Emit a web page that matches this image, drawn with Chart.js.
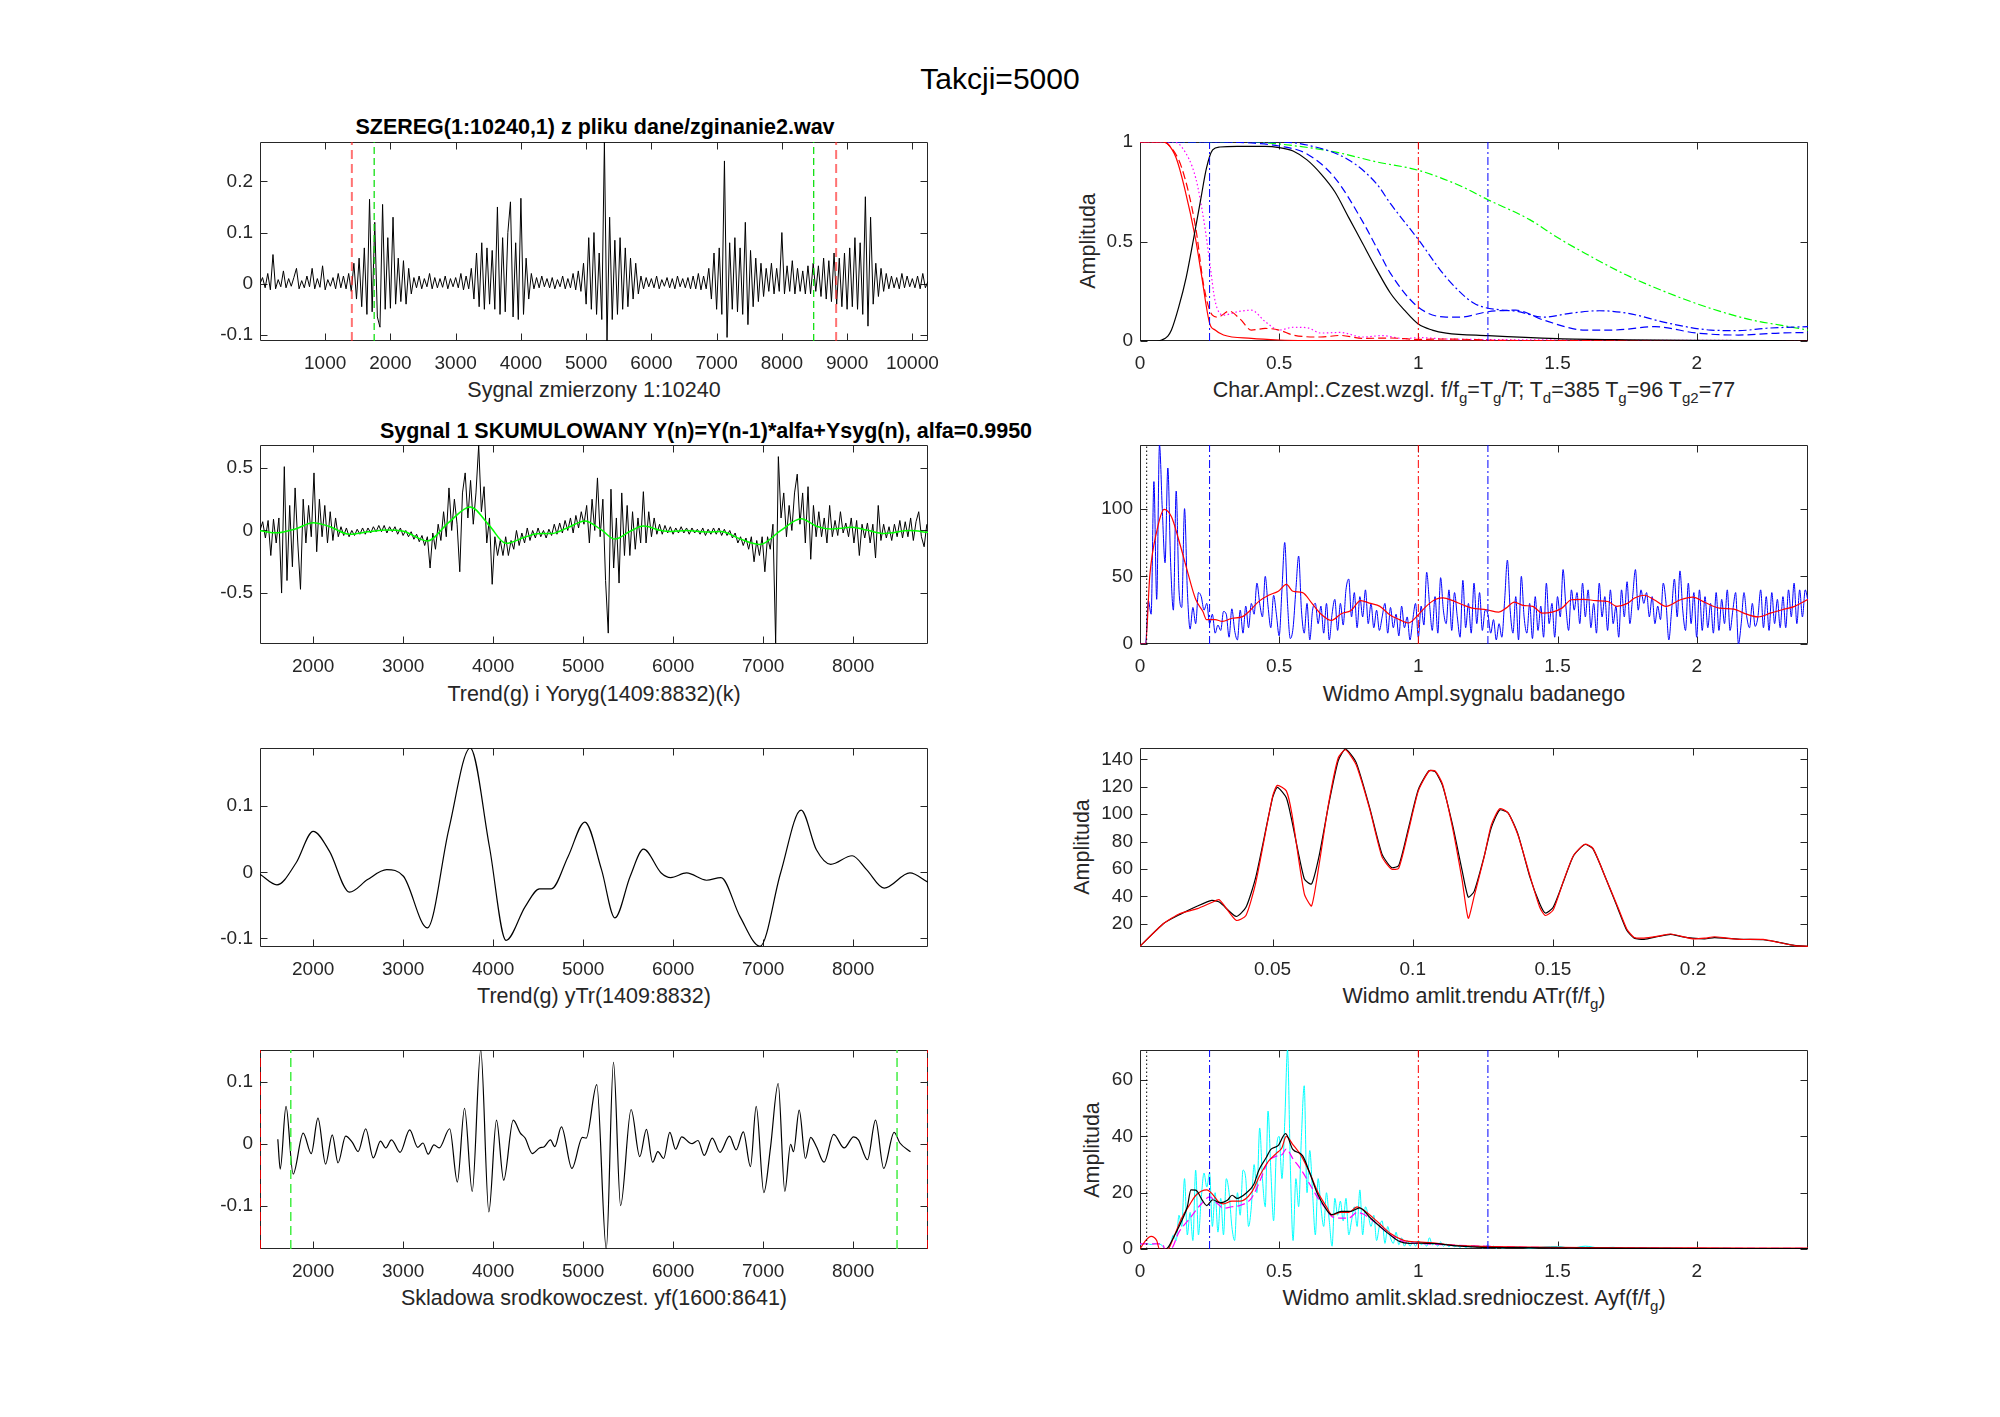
<!DOCTYPE html>
<html><head><meta charset="utf-8"><title>Takcji=5000</title>
<script src="https://cdn.jsdelivr.net/npm/chart.js@4.4.1/dist/chart.umd.min.js"></script>
<style>
html,body{margin:0;padding:0;background:#fff}
body{position:relative;width:2000px;height:1417px;overflow:hidden;font-family:'Liberation Sans',Arial,Helvetica,sans-serif;color:#262626}
canvas{position:absolute}
.t{position:absolute;white-space:nowrap;transform:translate(-50%,-50%);line-height:1;font-size:21.5px}
.b{font-weight:bold;color:#000}
.yl{transform:translate(-50%,-50%) rotate(-90deg)}
.s{font-size:70%;position:relative;top:0.42em}
</style></head><body>
<div class="t" style="left:1000px;top:79px;font-size:30px;color:#000">Takcji=5000</div>
<div class="t b" style="left:595px;top:128px">SZEREG(1:10240,1) z pliku dane/zginanie2.wav</div>
<div class="t b" style="left:706px;top:432px">Sygnal 1 SKUMULOWANY Y(n)=Y(n-1)*alfa+Ysyg(n), alfa=0.9950</div>
<div class="t" style="left:594px;top:391px">Sygnal zmierzony 1:10240</div>
<div class="t" style="left:1474px;top:391px">Char.Ampl:.Czest.wzgl. f/f<span class="s">g</span>=T<span class="s">g</span>/T; T<span class="s">d</span>=385 T<span class="s">g</span>=96 T<span class="s">g2</span>=77</div>
<div class="t" style="left:594px;top:695px">Trend(g) i Yoryg(1409:8832)(k)</div>
<div class="t" style="left:1474px;top:695px">Widmo Ampl.sygnalu badanego</div>
<div class="t" style="left:594px;top:997px">Trend(g) yTr(1409:8832)</div>
<div class="t" style="left:1474px;top:997px">Widmo amlit.trendu ATr(f/f<span class="s">g</span>)</div>
<div class="t" style="left:594px;top:1299px">Skladowa srodkowoczest. yf(1600:8641)</div>
<div class="t" style="left:1474px;top:1299px">Widmo amlit.sklad.srednioczest. Ayf(f/f<span class="s">g</span>)</div>
<div class="t yl" style="left:1089px;top:241px">Amplituda</div>
<div class="t yl" style="left:1083px;top:847px">Amplituda</div>
<div class="t yl" style="left:1093px;top:1150px">Amplituda</div>
<script>
const FONT = "'Liberation Sans', Arial, Helvetica, sans-serif";
const INK = '#262626';
Chart.defaults.font.family = FONT;

// ---------------- DATA ----------------
// Sygnal zmierzony (row 1 left): sample every 40
const sygStart = 1, sygStep = 40;
const sygnal = [
0.0,0.012,-0.008,0.02,-0.012,0.057,-0.01,0.008,-0.006,0.025,
-0.008,0.01,-0.005,0.012,0.03,-0.01,0.006,-0.008,0.015,-0.006,
0.03,-0.01,0.01,-0.007,0.035,-0.012,0.008,-0.005,0.012,-0.01,
0.02,-0.008,0.015,-0.01,0.02,-0.015,0.04,-0.03,0.05,-0.045,
0.07,-0.06,0.165,-0.055,0.12,-0.065,-0.085,0.155,-0.05,0.09,
-0.048,0.13,-0.04,0.05,-0.035,0.045,-0.04,0.03,-0.02,0.012,
-0.008,0.015,-0.01,0.01,-0.006,0.02,-0.01,0.012,-0.008,0.01,
-0.007,0.015,-0.01,0.01,-0.006,0.012,-0.008,0.02,-0.012,0.015,
-0.01,0.03,-0.03,0.06,-0.045,0.08,-0.05,0.07,-0.04,0.065,
-0.05,0.15,-0.06,0.09,-0.055,0.1,0.16,-0.065,0.08,-0.07,
0.167,-0.06,0.05,-0.03,0.02,-0.01,0.012,-0.008,0.015,-0.006,
0.01,-0.008,0.012,-0.01,0.008,-0.006,0.015,-0.01,0.01,-0.008,
0.02,-0.012,0.025,-0.015,0.04,-0.04,0.09,-0.05,0.1,-0.06,
0.06,-0.07,0.277,-0.112,0.13,-0.07,0.085,-0.06,0.09,-0.05,
0.07,-0.045,0.05,-0.03,0.04,-0.02,0.015,-0.01,0.012,-0.006,
0.01,-0.008,0.015,-0.01,0.008,-0.005,0.012,-0.008,0.01,-0.01,
0.015,-0.006,0.01,-0.008,0.012,-0.01,0.015,-0.01,0.02,-0.012,
0.015,-0.01,0.03,-0.03,0.06,-0.05,0.07,-0.06,0.24,-0.105,
0.08,-0.05,0.09,-0.055,0.07,-0.06,0.12,-0.08,0.065,-0.045,
0.05,-0.035,0.04,-0.025,0.03,-0.015,0.04,-0.02,0.03,-0.015,
0.1,-0.02,0.035,-0.015,0.045,-0.02,0.03,-0.015,0.025,-0.02,
0.035,-0.02,0.04,-0.015,0.035,-0.025,0.05,-0.03,0.045,-0.035,
0.06,-0.04,0.05,-0.045,0.06,-0.05,0.07,-0.045,0.09,-0.05,
0.08,-0.06,0.17,-0.083,0.13,-0.04,0.04,-0.025,0.03,-0.015,
0.02,-0.01,0.015,-0.008,0.012,-0.01,0.02,-0.008,0.015,-0.006,
0.01,-0.008,0.015,-0.01,0.02,-0.008,0.005];

// Sygnal skumulowany (row 2 left): sample every 30 from 1409
const kumStart = 1409, kumStep = 30;
const skumulowany = [
0.0,0.07,-0.06,0.08,-0.2,0.09,-0.1,0.1,-0.5,0.51,
-0.4,0.2,-0.29,0.34,-0.1,-0.47,0.25,-0.1,0.2,-0.05,
0.46,-0.17,0.25,-0.05,0.2,-0.1,0.15,-0.08,0.1,-0.05,
0.03,-0.04,0.02,-0.05,0.0,-0.04,0.01,-0.03,0.02,-0.03,
0.02,-0.02,0.03,-0.01,0.04,-0.01,0.04,-0.02,0.03,-0.01,
0.03,-0.03,0.02,-0.04,0.0,-0.05,-0.01,-0.07,-0.03,-0.09,
-0.04,-0.12,-0.05,-0.3,-0.02,-0.15,0.05,-0.08,0.15,-0.05,
0.34,0.0,0.25,0.05,-0.33,0.3,0.46,0.1,0.4,0.05,
0.3,0.68,0.15,0.35,-0.1,0.1,-0.43,-0.05,-0.2,-0.08,
-0.2,-0.05,-0.2,-0.08,-0.15,0.0,-0.12,-0.02,-0.1,0.02,
-0.08,0.0,-0.06,0.02,-0.05,0.0,-0.06,0.01,-0.04,0.05,
-0.03,0.06,-0.02,0.08,0.0,0.1,-0.02,0.12,0.02,0.15,
0.05,0.2,-0.1,0.25,0.0,0.42,-0.05,0.25,-0.4,-0.82,
0.33,-0.3,0.1,-0.42,0.3,-0.2,0.2,-0.2,0.15,-0.15,
0.1,-0.1,0.31,-0.1,0.15,-0.05,0.1,-0.03,0.05,-0.03,
0.04,-0.02,0.03,-0.03,0.02,-0.02,0.03,-0.02,0.02,-0.03,
0.02,-0.02,0.01,-0.03,0.02,-0.04,0.01,-0.03,0.02,-0.03,
0.02,-0.04,0.01,-0.04,0.0,-0.06,-0.02,-0.1,-0.05,-0.12,
-0.06,-0.15,-0.05,-0.25,-0.08,-0.2,-0.05,-0.33,-0.05,-0.15,
0.05,-0.9,0.59,0.1,0.3,-0.05,0.2,0.0,0.3,0.45,
0.05,0.3,-0.1,0.35,-0.23,0.2,-0.05,0.15,-0.05,0.1,
-0.1,0.2,-0.05,0.08,-0.04,0.15,-0.02,0.06,-0.05,0.1,
-0.1,0.08,-0.2,0.05,-0.06,0.06,-0.1,0.05,-0.22,0.2,
-0.08,0.05,-0.06,0.03,-0.08,0.05,-0.05,0.08,-0.06,0.07,
-0.05,0.1,-0.08,0.07,0.15,-0.05,-0.13,0.05];

// Trend yTr (rows 2 and 3 left): [sample, value]
const trend = [[1409,-0.003],[1597,-0.019],[1809,0.014],[2000,0.062],[2180,0.032],[2403,-0.030],[2605,-0.011],[2817,0.004],[3003,-0.006],[3268,-0.084],[3507,0.065],[3745,0.188],[3958,0.039],[4143,-0.103],[4356,-0.052],[4515,-0.025],[4647,-0.025],[4833,0.024],[5019,0.076],[5204,0.004],[5353,-0.069],[5523,-0.006],[5671,0.035],[5867,-0.001],[5973,-0.008],[6149,-0.001],[6371,-0.012],[6531,-0.008],[6743,-0.067],[6966,-0.112],[7194,-0.001],[7422,0.094],[7592,0.034],[7751,0.012],[7989,0.025],[8149,0.004],[8345,-0.024],[8631,-0.001],[8832,-0.015]];

// Skladowa srodkowoczest. yf (row 4 left): [sample, value]
const srodek = [[1607,0.008],[1634,-0.040],[1698,0.061],[1777,-0.048],[1889,0.018],[1979,-0.015],[2053,0.042],[2138,-0.032],[2212,0.015],[2276,-0.030],[2361,0.013],[2435,0.003],[2499,-0.012],[2584,0.025],[2668,-0.022],[2748,0.005],[2806,-0.006],[2870,0.007],[2966,-0.013],[3072,0.023],[3162,-0.005],[3220,0.002],[3278,-0.016],[3342,-0.001],[3400,-0.006],[3517,0.025],[3602,-0.061],[3682,0.058],[3767,-0.076],[3862,0.152],[3952,-0.109],[4037,0.039],[4117,-0.058],[4223,0.039],[4302,0.018],[4355,0.010],[4435,-0.015],[4515,-0.006],[4568,-0.004],[4637,0.007],[4684,-0.004],[4759,0.028],[4875,-0.039],[4992,0.011],[5034,0.010],[5151,0.096],[5257,-0.169],[5337,0.132],[5416,-0.099],[5533,0.056],[5629,-0.020],[5703,0.024],[5772,-0.029],[5830,-0.012],[5894,-0.023],[5963,0.019],[6027,-0.008],[6095,0.012],[6186,0.002],[6212,0.001],[6276,0.006],[6345,-0.018],[6435,0.010],[6520,-0.013],[6626,0.013],[6700,-0.009],[6780,0.020],[6859,-0.036],[6923,0.061],[7008,-0.078],[7082,-0.005],[7167,0.098],[7241,-0.076],[7305,0.0],[7337,-0.012],[7401,0.055],[7470,-0.023],[7528,0.011],[7592,-0.004],[7677,-0.029],[7783,0.016],[7900,-0.006],[8006,0.012],[8059,0.007],[8160,-0.025],[8249,0.039],[8340,-0.039],[8456,0.019],[8520,0.002],[8637,-0.012]];

// Char. amplitudowe filtrow (row 1 right): [f/fg, amplitude]
const charRed = [[0,1],[0.08,1],[0.1,0.99],[0.13,0.92],[0.16,0.77],[0.2,0.51],[0.22,0.34],[0.25,0.09],[0.27,0.055],[0.3,0.03],[0.4,0.013],[0.5,0.005],[0.6,0.002],[0.8,0.001],[1.2,0],[2.4,0]];
const charRedDash = [[0,1],[0.08,1],[0.1,0.99],[0.15,0.87],[0.2,0.57],[0.23,0.27],[0.26,0.13],[0.28,0.12],[0.32,0.15],[0.36,0.11],[0.4,0.055],[0.45,0.063],[0.5,0.055],[0.55,0.03],[0.65,0.02],[0.72,0.028],[0.8,0.013],[0.9,0.015],[1.0,0.008],[1.1,0.01],[1.3,0.003],[1.6,0.002],[2.0,0.001],[2.4,0.001]];
const charMag = [[0,1],[0.12,1],[0.15,0.975],[0.2,0.82],[0.23,0.6],[0.25,0.4],[0.27,0.2],[0.3,0.13],[0.35,0.147],[0.4,0.155],[0.45,0.097],[0.5,0.055],[0.55,0.069],[0.6,0.067],[0.65,0.04],[0.72,0.043],[0.8,0.02],[0.87,0.027],[0.95,0.012],[1.0,0.017],[1.1,0.01],[1.2,0.008],[1.5,0.005],[2.0,0.003],[2.4,0.002]];
const charBlack = [[0,0],[0.06,0],[0.078,0.005],[0.1,0.025],[0.113,0.055],[0.139,0.17],[0.166,0.32],[0.192,0.51],[0.218,0.71],[0.239,0.87],[0.261,0.96],[0.287,0.975],[0.35,0.978],[0.45,0.978],[0.5,0.972],[0.55,0.955],[0.6,0.91],[0.65,0.84],[0.7,0.75],[0.75,0.62],[0.8,0.49],[0.85,0.36],[0.9,0.24],[0.95,0.155],[1.0,0.085],[1.05,0.055],[1.1,0.04],[1.25,0.027],[1.5,0.012],[1.75,0.006],[2.0,0.003],[2.4,0.001]];
const charBlueDash = [[0,1],[0.3,1],[0.4,0.995],[0.5,0.98],[0.6,0.94],[0.7,0.82],[0.8,0.6],[0.85,0.47],[0.9,0.34],[1.0,0.17],[1.1,0.12],[1.15,0.12],[1.25,0.147],[1.35,0.155],[1.45,0.105],[1.6,0.055],[1.7,0.055],[1.85,0.072],[2.0,0.04],[2.15,0.03],[2.3,0.04],[2.4,0.043]];
const charBlueDashDot = [[0,1],[0.5,1],[0.6,0.985],[0.75,0.91],[0.85,0.79],[0.9,0.69],[1.0,0.51],[1.1,0.32],[1.2,0.19],[1.3,0.155],[1.35,0.15],[1.45,0.12],[1.55,0.14],[1.65,0.152],[1.75,0.14],[1.9,0.089],[2.05,0.055],[2.15,0.052],[2.25,0.064],[2.4,0.072]];
const charGreen = [[0,1],[0.4,1],[0.5,0.99],[0.7,0.95],[0.85,0.9],[1.0,0.858],[1.15,0.78],[1.25,0.71],[1.4,0.61],[1.5,0.52],[1.6,0.44],[1.75,0.33],[1.9,0.24],[2.05,0.164],[2.2,0.105],[2.3,0.08],[2.4,0.055]];

// Widmo Ampl. sygnalu badanego (row 2 right): step 0.01
const widmoStep = 0.01;
const widmo = [
0,0,0,32,22,120,33,147,100,60,
130,60,25,113,40,27,100,40,11,27,
15,38,35,25,30,15,22,8,14,10,
24,22,5,26,10,3,25,8,28,12,
30,22,45,30,20,50,28,12,36,22,
6,40,75,30,4,12,40,65,25,8,
30,3,25,30,15,28,8,30,3,22,
33,10,30,14,40,48,20,38,12,35,
20,40,15,30,12,25,10,20,30,8,
27,12,22,6,28,12,20,3,18,30,
5,28,14,53,30,10,35,8,49,25,
15,40,10,38,20,5,47,12,30,8,
45,15,38,10,25,22,8,18,3,15,
5,32,62,25,8,35,3,50,20,8,
30,4,35,10,28,5,45,15,30,5,
35,20,55,28,10,40,25,38,15,45,
20,40,12,30,8,45,20,35,10,40,
15,28,5,40,20,46,15,35,55,25,
40,30,38,20,35,15,28,18,45,30,
3,25,48,20,54,25,10,45,15,38,
5,40,10,35,12,30,8,38,10,33,
15,40,10,25,38,0,15,38,20,12,
30,13,20,40,12,35,10,38,15,33,
12,35,12,40,20,45,15,40,20,40,
32];
const widmoGlad = [[0,0],[0.02,0],[0.035,50],[0.061,84],[0.087,99.5],[0.113,94],[0.139,77],[0.166,57],[0.2,33],[0.226,24],[0.239,18],[0.27,18],[0.296,16.7],[0.331,19],[0.366,20],[0.392,24],[0.427,31.5],[0.462,36],[0.497,39],[0.526,44],[0.549,39],[0.584,38],[0.618,30],[0.653,21.6],[0.688,17.4],[0.723,22.4],[0.758,24.8],[0.793,32],[0.828,30],[0.862,27.8],[0.897,21.6],[0.932,18],[0.963,15.5],[1.0,21.6],[1.028,27.8],[1.063,33],[1.089,34],[1.124,32],[1.159,29],[1.193,26.5],[1.246,25.3],[1.289,23.6],[1.315,26.5],[1.345,31],[1.376,28.5],[1.411,27.8],[1.446,22.8],[1.481,23.6],[1.516,26.5],[1.55,32.7],[1.594,33],[1.638,32],[1.681,31.4],[1.713,27.8],[1.751,30],[1.777,34],[1.812,36],[1.847,32.7],[1.89,27.8],[1.942,32.7],[1.986,34.6],[2.03,30.7],[2.082,26.5],[2.134,25.8],[2.169,22.8],[2.221,20],[2.265,22.8],[2.308,25.3],[2.352,27.8],[2.4,33]];

// Widmo amplit. trendu (row 3 right): [f/fg, amplitude]
const trendWidmoK = [[0.0027,3.5],[0.011,20],[0.017,26.8],[0.0232,32.9],[0.0283,37],[0.031,35.8],[0.037,25.3],[0.0405,32],[0.044,54],[0.05,112],[0.0517,119.6],[0.0549,112],[0.0569,95],[0.0613,52.8],[0.0639,49],[0.0665,68.6],[0.07,107],[0.0734,139],[0.076,147.5],[0.0798,137.8],[0.0846,105],[0.089,71],[0.0924,61],[0.095,62.5],[0.0985,90],[0.102,118],[0.1058,131.7],[0.108,131],[0.1106,121],[0.1141,93],[0.1176,59],[0.1198,39.4],[0.1219,43.6],[0.1254,68.6],[0.128,90],[0.131,103],[0.134,101],[0.1375,85.6],[0.1418,54],[0.1453,34.6],[0.1473,27.8],[0.1501,32],[0.1539,51.6],[0.1574,69.8],[0.1614,77.8],[0.1643,74.6],[0.1687,54],[0.173,32],[0.1764,15],[0.179,9.5],[0.1825,8.6],[0.1877,10.8],[0.192,12.2],[0.1955,10.8],[0.1998,9.5],[0.2042,9],[0.2076,9.8],[0.212,9.3],[0.2172,8.6],[0.225,8.3],[0.2302,6.6],[0.2362,4.2],[0.241,3.5]];
const trendWidmoR = [[0.0027,3.5],[0.011,20],[0.017,27.5],[0.0232,31],[0.0283,35.5],[0.031,37.5],[0.037,22.5],[0.0405,26],[0.044,50],[0.05,113],[0.0517,121],[0.0549,117],[0.0569,100],[0.0613,42],[0.0639,33],[0.0665,62],[0.07,108],[0.0734,141],[0.076,147],[0.0798,136],[0.0846,104],[0.089,69],[0.0924,60],[0.095,60.5],[0.0985,88],[0.102,117],[0.1058,131.5],[0.108,131.5],[0.1106,122],[0.1141,91],[0.1176,52],[0.1198,24],[0.1219,40],[0.1254,68],[0.128,92],[0.131,104],[0.134,101],[0.1375,85],[0.1418,55],[0.1453,32],[0.1473,26],[0.1501,30],[0.1539,52],[0.1574,70],[0.1614,78],[0.1643,75],[0.1687,54],[0.173,33],[0.1764,16],[0.179,10],[0.1825,9.5],[0.1877,11],[0.192,12.5],[0.1955,11],[0.1998,9],[0.2042,9.5],[0.2076,10.5],[0.212,9.5],[0.2172,8.5],[0.225,8.5],[0.2302,6.5],[0.2362,4],[0.241,3.5]];

// Widmo amplit. skladowej srednioczest. (row 4 right)
const cyjanStep = 0.01;
const cyjan = [
1.5,1.8,2,1.8,1.6,1.8,2,1.8,1.2,0,0,
2,5,3,12,8,25,5,13,3,28,
5,18,27,22,27,8,20,6,18,5,
25,20,8,3,20,12,28,25,8,15,
30,20,43,25,15,49,28,10,35,40,
25,45,70.7,30,3,25,15,40,58,20,
35,20,5,25,15,8,20,10,1,18,
12,17,10,18,5,10,15,8,21,5,
15,12,8,12,3,8,10,2,8,4,
2,6,1.5,4,1,3,1,2.5,1,3,
1.5,2,1,4,1.5,2,1,2.5,1,1.8,
0.8,1.5,0.8,1.2,0.6,1.2,0.5,1,0.6,1.3,
0.5,1,0.4,0.8,1.5,0.5,1,0.3,0.8,0.4];
const cyjanTailStart = 1.35, cyjanTailStep = 0.05;
const cyjanTail = [0.8,0.3,0.7,0.9,0.3,1.0,0.4,0.6,0.2,0.5,0.3,0.4,0.2,0.3,0.2,0.3,0.1,0.2,0.1,0.2,0.1,0.1];
const ayfK = [[0,0],[0.09,0],[0.1,0.5],[0.12,4],[0.15,10],[0.17,15],[0.183,21],[0.2,20.9],[0.226,17],[0.24,15.4],[0.261,17.5],[0.287,16.4],[0.314,17.3],[0.331,19.1],[0.348,18],[0.383,20],[0.409,23],[0.427,28],[0.453,32.4],[0.47,35.4],[0.497,36.8],[0.523,41],[0.549,35.4],[0.584,33.2],[0.61,27],[0.636,20],[0.662,15.2],[0.688,12.2],[0.723,13.4],[0.758,13.4],[0.789,14.6],[0.828,11],[0.862,8],[0.897,5.1],[0.932,2.7],[0.967,2],[1.0,2.1],[1.063,1.9],[1.124,1.2],[1.21,0.7],[1.35,0.5],[1.52,0.3],[2.0,0.1],[2.4,0.1]];
const ayfR = [[0,0],[0.02,3],[0.04,4.5],[0.06,3],[0.07,0],[0.1,0],[0.12,4],[0.15,11],[0.18,16],[0.2,19],[0.22,20.5],[0.24,21],[0.26,19.5],[0.28,17],[0.3,16],[0.33,17],[0.36,17],[0.4,20],[0.43,26],[0.46,31],[0.49,34],[0.51,36],[0.525,40],[0.55,37],[0.58,33],[0.61,27],[0.64,20],[0.67,15],[0.69,12],[0.72,13],[0.75,13],[0.78,15],[0.8,14],[0.85,10],[0.9,5.5],[0.95,3],[1.0,2.5],[1.05,2.2],[1.1,1.6],[1.2,1],[1.4,0.7],[1.6,0.5],[2.0,0.4],[2.4,0.3]];
const ayfM = [[0,1.8],[0.08,1.8],[0.09,0],[0.11,0],[0.14,6],[0.18,11],[0.22,16],[0.25,18.5],[0.28,16],[0.3,14.5],[0.33,15],[0.36,15.5],[0.4,18],[0.43,24],[0.46,31],[0.49,33],[0.51,33.5],[0.525,35.5],[0.55,32],[0.58,28],[0.61,23],[0.64,18],[0.67,14],[0.69,11.5],[0.72,11],[0.75,11],[0.78,13],[0.8,12.5],[0.85,9],[0.9,5],[0.95,2.5],[1.0,2],[1.1,1.5],[1.3,0.8],[1.6,0.4],[2.4,0.2]];

// marker lines
const probkiCzerwone = [1409, 8832];
const probkiZielone = [1751, 8488];
const fNiebieskie = [0.25, 1.25];
const fCzerwone = [1.0];
const fKropka = [0.024];

// axis limits and ticks
const s1X = [1, 10240], s1Y = [-0.112, 0.277];
const s3Y = [-0.907, 0.683], s5Y = [-0.113, 0.188], s7Y = [-0.169, 0.152];
const kumX = [1409, 8832];
const fX = [0, 2.4];
const s2Y = [0, 1], s4Y = [0, 147], s8Y = [0, 70.7];
const s6X = [0.0027, 0.241], s6Y = [3.0, 148.3];
const s1XTicks = [1000,2000,3000,4000,5000,6000,7000,8000,9000,10000];
const s1XLabels = ['1000','2000','3000','4000','5000','6000','7000','8000','9000','10000'];
const s1YTicks = [-0.1,0,0.1,0.2], s1YLabels = ['-0.1','0','0.1','0.2'];
const kumXTicks = [2000,3000,4000,5000,6000,7000,8000];
const kumXLabels = ['2000','3000','4000','5000','6000','7000','8000'];
const s3YTicks = [-0.5,0,0.5], s3YLabels = ['-0.5','0','0.5'];
const s57YTicks = [-0.1,0,0.1], s57YLabels = ['-0.1','0','0.1'];
const fXTicks = [0,0.5,1,1.5,2], fXLabels = ['0','0.5','1','1.5','2'];
const s2YTicks = [0,0.5,1], s2YLabels = ['0','0.5','1'];
const s4YTicks = [0,50,100], s4YLabels = ['0','50','100'];
const s6XTicks = [0.05,0.1,0.15,0.2], s6XLabels = ['0.05','0.1','0.15','0.2'];
const s6YTicks = [20,40,60,80,100,120,140], s6YLabels = ['20','40','60','80','100','120','140'];
const s8YTicks = [0,20,40,60], s8YLabels = ['0','20','40','60'];

// ---------------- DRAWING ----------------
const boxPlugin = {
  id: 'mbox',
  beforeDatasetsDraw(chart) {
    const {ctx, chartArea: a} = chart;
    const x = chart.scales.x, y = chart.scales.y;
    const TL = 7;
    const l = Math.round(a.left) + 0.5, r = Math.round(a.right) - 0.5;
    const t = Math.round(a.top) + 0.5, b = Math.round(a.bottom) - 0.5;
    ctx.save();
    ctx.strokeStyle = INK; ctx.lineWidth = 1;
    ctx.beginPath();
    ctx.rect(l, t, r - l, b - t);
    x.ticks.forEach(tk => { const p = Math.round(x.getPixelForValue(tk.value)) + 0.5; ctx.moveTo(p, b); ctx.lineTo(p, b - TL); ctx.moveTo(p, t); ctx.lineTo(p, t + TL); });
    y.ticks.forEach(tk => { const p = Math.round(y.getPixelForValue(tk.value)) + 0.5; ctx.moveTo(l, p); ctx.lineTo(l + TL, p); ctx.moveTo(r, p); ctx.lineTo(r - TL, p); });
    ctx.stroke();
    ctx.restore();
  }
};

const PL = 100, PT = 20, PR = 50, PB = 50;
function axis(lim, ticks, labels, isX) {
  return {
    type: 'linear', min: lim[0], max: lim[1], bounds: 'data',
    grid: {display: false, drawTicks: false}, border: {display: false},
    afterBuildTicks: sc => { sc.ticks = ticks.map(v => ({value: v})); },
    afterFit: sc => { if (isX) sc.height = PB; else sc.width = PL; },
    ticks: {autoSkip: false, maxRotation: 0, minRotation: 0, padding: isX ? 11 : 7, color: INK,
      font: {family: FONT, size: 19}, callback: (v, i) => labels[i]}
  };
}
function makeChart(L, T, W, H, xa, ya, datasets) {
  const c = document.createElement('canvas');
  c.width = W + PL + PR; c.height = H + PT + PB;
  c.style.left = (L - PL) + 'px'; c.style.top = (T - PT) + 'px';
  c.style.width = c.width + 'px'; c.style.height = c.height + 'px';
  document.body.appendChild(c);
  return new Chart(c, {
    type: 'line',
    data: {datasets: datasets.slice().reverse()},
    options: {
      responsive: false, animation: false, devicePixelRatio: 1, events: [],
      layout: {padding: {left: 0, top: PT, right: PR, bottom: 0}},
      plugins: {legend: {display: false}, tooltip: {enabled: false}, title: {display: false}},
      scales: {x: xa, y: ya},
      elements: {point: {radius: 0}, line: {borderWidth: 1.2, borderJoinStyle: 'round', borderCapStyle: 'butt'}}
    },
    plugins: [boxPlugin]
  });
}
const pairs = arr => arr.map(p => ({x: p[0], y: p[1]}));
const series = (vals, start, step) => vals.map((v, i) => ({x: start + i * step, y: v}));
function ln(data, color, o) { return Object.assign({data, borderColor: color, borderWidth: 1.2, pointRadius: 0, fill: false, tension: 0}, o || {}); }
const smooth = {cubicInterpolationMode: 'monotone'};
function vl(x, yl, color, dash, w) { return ln([{x, y: yl[0]}, {x, y: yl[1]}], color, {borderDash: dash, borderWidth: w || 1}); }

const LX = 260, RX = 1140, W = 668, H = 199;
const ROWS = [142, 445, 748, 1050];
const DASH = [8, 4], DASHDOT = [8, 3, 2, 3], DOT = [1.5, 2.5];

// Row 1 left
makeChart(LX, ROWS[0], W, H, axis(s1X, s1XTicks, s1XLabels, true), axis(s1Y, s1YTicks, s1YLabels, false), [
  ln(sygnal.map((v, i) => ({x: Math.max(sygStart, i * sygStep), y: v})), '#000', {borderWidth: 1}),
  ...probkiCzerwone.map(x => vl(x, s1Y, 'rgba(255,40,40,0.65)', [9, 5], 2)),
  ...probkiZielone.map(x => vl(x, s1Y, '#00dd00', [7, 4], 1.2))
]);

// Row 1 right
makeChart(RX, ROWS[0], W, H, axis(fX, fXTicks, fXLabels, true), axis(s2Y, s2YTicks, s2YLabels, false), [
  ln(pairs(charGreen), '#00ff00', Object.assign({borderDash: DASHDOT}, smooth)),
  ln(pairs(charBlueDashDot), '#0000ff', Object.assign({borderDash: DASHDOT}, smooth)),
  ln(pairs(charBlueDash), '#0000ff', Object.assign({borderDash: DASH}, smooth)),
  ln(pairs(charMag), '#ff00ff', Object.assign({borderDash: DOT}, smooth)),
  ln(pairs(charRedDash), '#ff0000', Object.assign({borderDash: DASH}, smooth)),
  ln(pairs(charRed), '#ff0000', smooth),
  ln(pairs(charBlack), '#000', smooth),
  ...fNiebieskie.map(x => vl(x, s2Y, '#0000ff', DASHDOT)),
  ...fCzerwone.map(x => vl(x, s2Y, '#ff0000', DASHDOT))
]);

// Row 2 left
makeChart(LX, ROWS[1], W, H, axis(kumX, kumXTicks, kumXLabels, true), axis(s3Y, s3YTicks, s3YLabels, false), [
  ln(series(skumulowany, kumStart, kumStep), '#000', {borderWidth: 1}),
  ln(pairs(trend), '#00ff00', Object.assign({borderWidth: 1.5}, smooth))
]);

// Row 2 right
makeChart(RX, ROWS[1], W, H, axis(fX, fXTicks, fXLabels, true), axis(s4Y, s4YTicks, s4YLabels, false), [
  ln(series(widmo, 0, widmoStep), '#0000ff', Object.assign({borderWidth: 1}, smooth)),
  ln(pairs(widmoGlad), '#ff0000', smooth),
  ...fKropka.map(x => vl(x, s4Y, '#000', DOT)),
  ...fNiebieskie.map(x => vl(x, s4Y, '#0000ff', DASHDOT)),
  ...fCzerwone.map(x => vl(x, s4Y, '#ff0000', DASHDOT))
]);

// Row 3 left
makeChart(LX, ROWS[2], W, H, axis(kumX, kumXTicks, kumXLabels, true), axis(s5Y, s57YTicks, s57YLabels, false), [
  ln(pairs(trend), '#000', smooth)
]);

// Row 3 right
makeChart(RX, ROWS[2], W, H, axis(s6X, s6XTicks, s6XLabels, true), axis(s6Y, s6YTicks, s6YLabels, false), [
  ln(pairs(trendWidmoK), '#000', {tension: 0.2}),
  ln(pairs(trendWidmoR), '#ff0000', {tension: 0.2})
]);

// Row 4 left
makeChart(LX, ROWS[3], W, H, axis(kumX, kumXTicks, kumXLabels, true), axis(s7Y, s57YTicks, s57YLabels, false), [
  ln(pairs(srodek), '#000', smooth),
  ...probkiCzerwone.map(x => vl(x, s7Y, '#dd0000', [9, 5], 2)),
  ...probkiZielone.map(x => vl(x, s7Y, '#44ee44', [9, 5], 1.5))
]);

// Row 4 right
makeChart(RX, ROWS[3], W, H, axis(fX, fXTicks, fXLabels, true), axis(s8Y, s8YTicks, s8YLabels, false), [
  ln(series(cyjan, 0, cyjanStep).concat(series(cyjanTail, cyjanTailStart, cyjanTailStep)), '#00ffff', Object.assign({borderWidth: 1}, smooth)),
  ln(pairs(ayfM), '#ff00ff', Object.assign({borderDash: DASH}, smooth)),
  ln(pairs(ayfR), '#ff0000', smooth),
  ln(pairs(ayfK), '#000', smooth),
  ...fKropka.map(x => vl(x, s8Y, '#000', DOT)),
  ...fNiebieskie.map(x => vl(x, s8Y, '#0000ff', DASHDOT)),
  ...fCzerwone.map(x => vl(x, s8Y, '#ff0000', DASHDOT))
]);
</script>
</body></html>
